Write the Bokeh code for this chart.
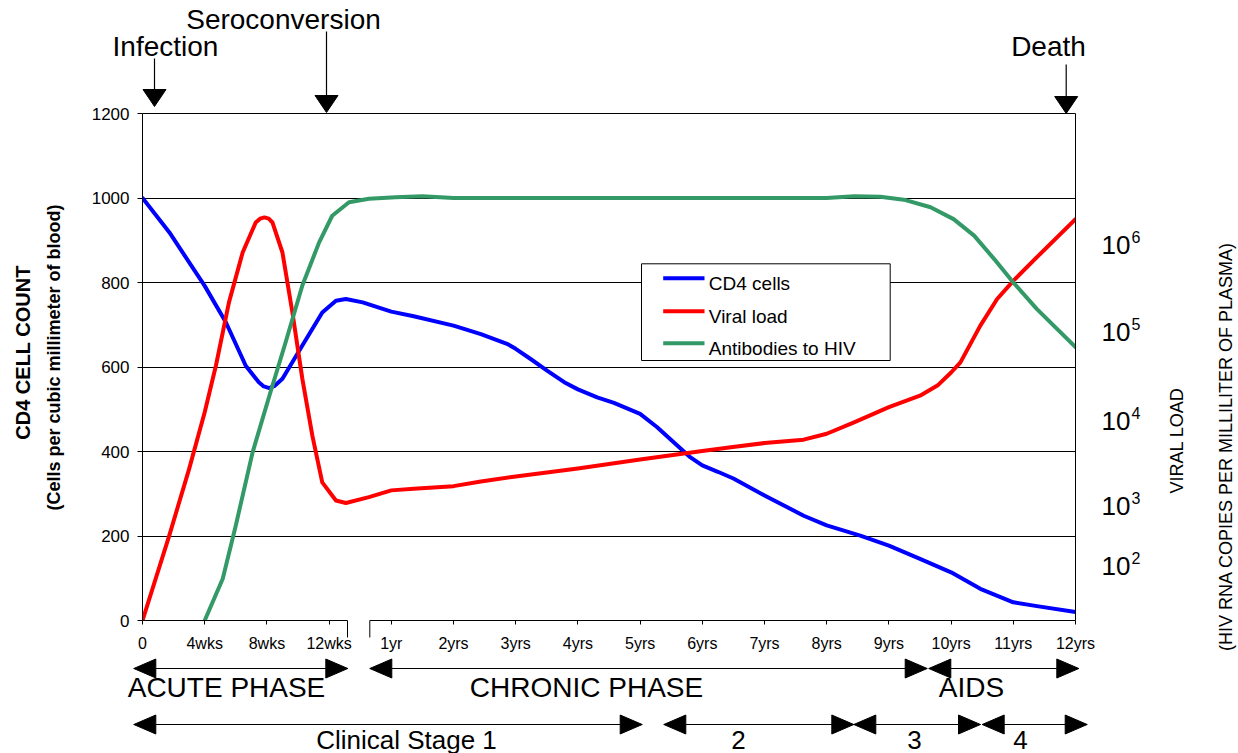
import math
from bokeh.plotting import figure
from bokeh.models import Range1d, FixedTicker
from bokeh.core.properties import value
from bokeh.embed import file_html
from bokeh.resources import INLINE

# ---------------- data ----------------
tick_labels = ["0", "4wks", "8wks", "12wks", "1yr", "2yrs", "3yrs", "4yrs", "5yrs",
               "6yrs", "7yrs", "8yrs", "9yrs", "10yrs", "11yrs", "12yrs"]
cd4_x = [0, 0.43, 1.0, 1.34, 1.66, 1.87, 1.95, 2.04, 2.13, 2.25, 2.57, 2.89, 3.11, 3.27,
         3.54, 4.0, 4.36, 5.0, 5.44, 5.86, 6.0, 6.24, 6.51, 6.78, 7.0, 7.31, 7.58, 8.0,
         8.27, 8.54, 8.81, 9.0, 9.25, 9.5, 10.0, 10.63, 11.0, 11.54, 12.0, 12.5, 13.0,
         13.47, 14.0, 14.38, 15.0]
cd4_y = [1000, 919, 792, 706, 603, 564, 554, 550, 556, 572, 651, 729, 757, 761,
         753, 731, 720, 698, 678, 655, 643, 619, 591, 564, 547, 528, 515, 489,
         458, 422, 386, 367, 352, 336, 296, 248, 225, 201, 177, 146, 114,
         75, 43, 34, 20]
viral_x = [0, 0.43, 0.75, 1.0, 1.18, 1.39, 1.61, 1.82, 1.89, 1.96, 2.03, 2.09, 2.25, 2.41,
           2.57, 2.73, 2.89, 3.11, 3.27, 3.64, 4.0, 4.36, 5.0, 5.44, 6.0, 7.0, 8.0, 9.0,
           9.46, 10.0, 10.63, 11.0, 11.44, 12.0, 12.5, 12.78, 13.0, 13.15, 13.47, 13.74,
           14.0, 14.38, 15.0]
viral_y = [0, 201, 359, 493, 603, 753, 871, 942, 951, 954, 951, 942, 871, 729,
           572, 438, 327, 284, 278, 292, 308, 312, 318, 329, 341, 360, 381, 401,
           410, 420, 428, 442, 469, 505, 532, 556, 587, 611, 698, 761,
           804, 860, 950]
anti_x = [1.0, 1.29, 1.5, 1.77, 2.04, 2.3, 2.57, 2.84, 3.05, 3.32, 3.64, 4.07, 4.5,
          5.0, 6.0, 7.0, 8.0, 9.0, 10.0, 11.0, 11.44, 11.86, 12.24, 12.67, 13.04, 13.37,
          13.69, 14.0, 14.38, 15.0]
anti_y = [0, 99, 225, 398, 532, 658, 793, 895, 958, 990, 998, 1002, 1004,
          1000, 1000, 1000, 1000, 1000, 1000, 1000, 1004, 1003, 996, 978, 950, 911,
          856, 800, 737, 647]
series_names = ["CD4 cells", "Viral load", "Antibodies to HIV"]
series_colors = ["#0000FF", "#FF0000", "#339966"]
y_ticks = [0, 200, 400, 600, 800, 1000, 1200]
viral_exponents = ["6", "5", "4", "3", "2"]
events = ["Infection", "Seroconversion", "Death"]
phases = ["ACUTE PHASE", "CHRONIC PHASE", "AIDS"]
stages = ["Clinical Stage 1", "2", "3", "4"]

# ---------------- layout ----------------
W, H = 1238, 753
L, T = 142, 113
FW, FH = 933, 507
R, B = W - L - FW, H - T - FH
XMAX, YMAX = 15, 1200
FONT = "Liberation Sans"


def X(px):  # canvas pixel -> data x
    return (px - L) / FW * XMAX


def Y(py):  # canvas pixel -> data y
    return (T + FH - py) / FH * YMAX


p = figure(width=W, height=H, x_range=Range1d(0, XMAX), y_range=Range1d(0, YMAX),
           output_backend="svg", toolbar_location=None,
           min_border_left=L, min_border_right=R, min_border_top=T, min_border_bottom=B)
p.outline_line_color = None
p.background_fill_color = "white"
p.border_fill_color = "white"

# axes
p.yaxis.ticker = FixedTicker(ticks=y_ticks)
p.yaxis.major_tick_out = 5
p.yaxis.major_tick_in = 0
p.yaxis.minor_tick_out = 0
p.yaxis.minor_tick_in = 0
p.yaxis.axis_line_color = "black"
p.yaxis.major_tick_line_color = "black"
p.yaxis.major_label_text_font = FONT
p.yaxis.major_label_text_font_size = "17px"
p.yaxis.major_label_text_color = "black"
p.yaxis.major_label_standoff = 8

p.xaxis.ticker = FixedTicker(ticks=list(range(len(tick_labels))))
p.xaxis.major_label_overrides = {i: s for i, s in enumerate(tick_labels)}
p.xaxis.axis_line_color = None
p.xaxis.major_tick_out = 4
p.xaxis.major_tick_in = 0
p.xaxis.minor_tick_out = 0
p.xaxis.minor_tick_in = 0
p.xaxis.major_tick_line_color = "black"
p.xaxis.major_label_text_font = FONT
p.xaxis.major_label_text_font_size = "16px"
p.xaxis.major_label_text_color = "black"
p.xaxis.major_label_standoff = 10

p.xgrid.visible = False
p.ygrid.ticker = FixedTicker(ticks=y_ticks[1:-1])
p.ygrid.grid_line_color = "black"
p.ygrid.grid_line_width = 1

# frame borders and broken baseline
p.segment(x0=[0, XMAX], y0=[YMAX, 0], x1=[XMAX, XMAX], y1=[YMAX, YMAX],
          line_color="black", line_width=1, level="overlay")
gap0, gap1 = X(347), X(369.3)
p.segment(x0=[0, gap1], y0=[0, 0], x1=[gap0, XMAX], y1=[0, 0],
          line_color="black", line_width=1, level="overlay")
p.segment(x0=[gap0, gap1], y0=[0, 0], x1=[gap0, gap1], y1=[Y(637), Y(637)],
          line_color="black", line_width=1, level="overlay")

# curves
for xs, ys, c in zip([cd4_x, viral_x, anti_x], [cd4_y, viral_y, anti_y], series_colors):
    p.line(xs, ys, line_color=c, line_width=4, line_join="round", line_cap="round")


def txt(px, py, s, size, align="center", baseline="middle", bold=False, angle=0.0,
        font=FONT, color="black"):
    p.text(x=[X(px)], y=[Y(py)], text=[s], text_align=align, text_baseline=baseline,
           text_font=value(font), text_font_size=f"{size}px",
           text_font_style="bold" if bold else "normal", angle=angle,
           text_color=color, level="overlay")


def down_arrow(px, top, tip, head_len=17, half_w=11.5):
    p.segment(x0=[X(px)], y0=[Y(top)], x1=[X(px)], y1=[Y(tip - head_len + 1)],
              line_color="black", line_width=1.2, level="overlay")
    p.patch(x=[X(px - half_w), X(px + half_w), X(px)],
            y=[Y(tip - head_len), Y(tip - head_len), Y(tip)],
            fill_color="black", line_color="black", level="overlay")


def h_arrow(x0, x1, py, head_len=22, half_w=9.5):
    p.segment(x0=[X(x0)], y0=[Y(py)], x1=[X(x1)], y1=[Y(py)],
              line_color="black", line_width=1.2, level="overlay")
    p.patch(x=[X(x0), X(x0 + head_len), X(x0 + head_len)],
            y=[Y(py), Y(py - half_w), Y(py + half_w)],
            fill_color="black", line_color="black", level="overlay")
    p.patch(x=[X(x1), X(x1 - head_len), X(x1 - head_len)],
            y=[Y(py), Y(py - half_w), Y(py + half_w)],
            fill_color="black", line_color="black", level="overlay")


# top events (text centres)
ev_text = [(165, 46), (283, 18.5), (1048, 46)]
ev_arrow = [(154, 58, 106), (326, 31, 112), (1065.7, 64, 113)]
for name, (tx, ty), (ax, atop, atip) in zip(events, ev_text, ev_arrow):
    txt(tx, ty, name, 28)
    down_arrow(ax, atop, atip)

# phases
ph_arrows = [(133.3, 347.3), (369.3, 926.7), (928.3, 1078.3)]
ph_text_x = [226, 586, 971]
for name, (a0, a1), tx in zip(phases, ph_arrows, ph_text_x):
    h_arrow(a0, a1, 668)
    txt(tx, 687, name, 28)

st_arrows = [(133.3, 641.7), (663.3, 853.3), (853.3, 980), (981.7, 1086.7)]
st_text_x = [406, 738, 914, 1020]
for name, (a0, a1), tx in zip(stages, st_arrows, st_text_x):
    h_arrow(a0, a1, 724)
    txt(tx, 739, name, 26)

# left axis titles
txt(22, 352, "CD4 CELL COUNT", 20, bold=True, angle=math.pi / 2)
txt(53, 357, "(Cells per cubic millimeter of blood)", 18, bold=True, angle=math.pi / 2)

# right viral-load scale and titles
exp_y = [244, 331, 420, 505, 565]
for e, ey in zip(viral_exponents, exp_y):
    txt(1101, ey, "10", 26, align="left")
    txt(1131, ey - 8, e, 16, align="left")
txt(1176, 440, "VIRAL LOAD", 18, angle=math.pi / 2)
txt(1225, 446, "(HIV RNA COPIES PER MILLILITER OF PLASMA)", 18, angle=math.pi / 2)

# legend
p.quad(left=[X(641)], right=[X(889.7)], top=[Y(263.3)], bottom=[Y(360)],
       fill_color="white", line_color="black", line_width=1, level="overlay")
row_y = [277.7, 310.7, 342.7]
for name, c, ry in zip(series_names, series_colors, row_y):
    p.segment(x0=[X(662.7)], y0=[Y(ry)], x1=[X(704)], y1=[Y(ry)],
              line_color=c, line_width=4, level="overlay")
    txt(708.3, ry + 5.5, name, 19, align="left")

open("out.html", "w").write(file_html(p, INLINE))
